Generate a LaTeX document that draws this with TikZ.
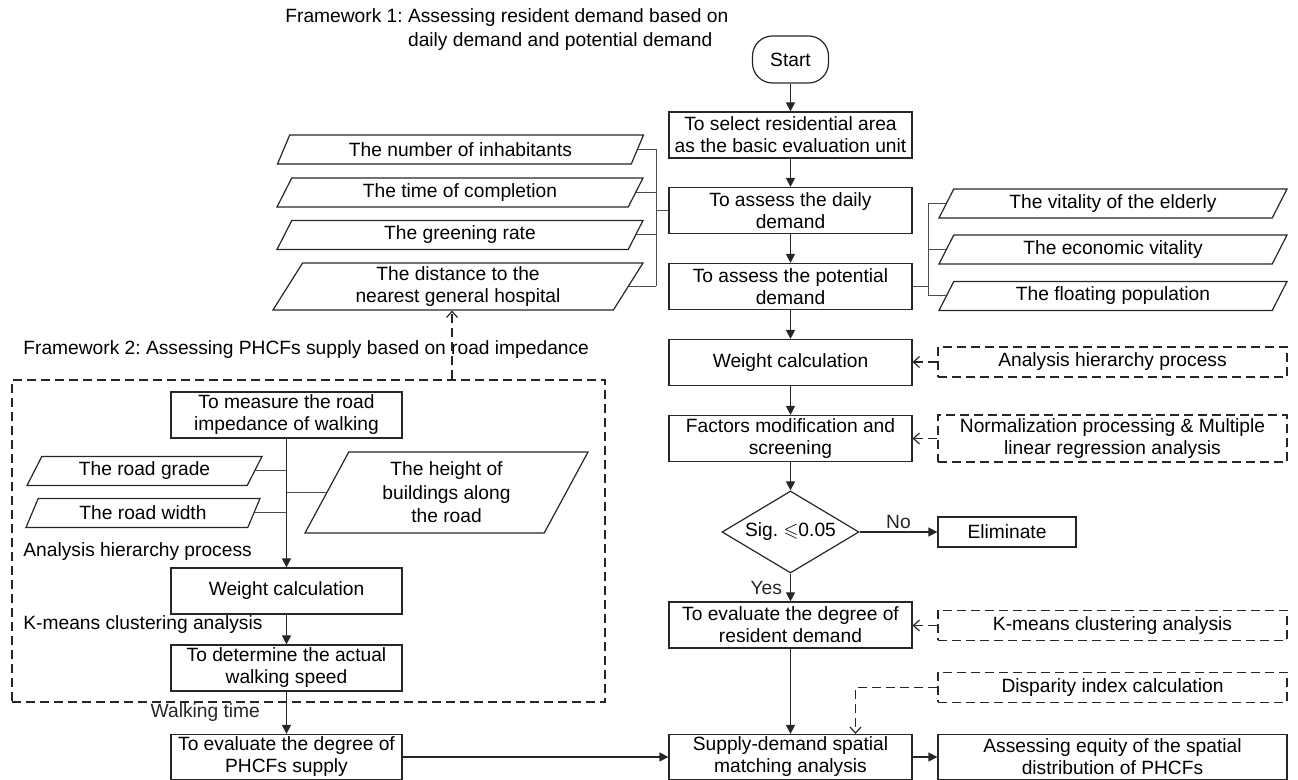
\documentclass[tikz,border=0pt]{standalone}
\usepackage{fontspec}
\setmainfont{Liberation Sans}
\usepackage{amssymb}
\usetikzlibrary{shapes.geometric,arrows.meta,positioning,calc}
\frenchspacing
\newcommand{\figfont}{\fontsize{9.6}{11}\selectfont}
\tikzset{
  >={Triangle[length=4.5pt,width=4.5pt]},
  box/.style={draw=black!85,line width=0.6pt,align=center,minimum width=121.5pt,minimum height=23pt,inner sep=1pt,font=\figfont},
  sbox/.style={box,minimum width=115.5pt},
  term/.style={draw=black!85,line width=0.6pt,rounded corners=10pt,minimum width=38pt,minimum height=23.5pt,font=\figfont},
  dec/.style={draw=black!85,line width=0.6pt,diamond,aspect=1.67,inner sep=0pt,minimum width=68.5pt,minimum height=41pt,font=\figfont},
  para/.style={draw=black!85,line width=0.6pt,trapezium,trapezium left angle=56,trapezium right angle=124,trapezium stretches body,align=center,inner sep=1pt,minimum height=14.5pt,font=\figfont},
  meth/.style={draw=black!85,line width=0.6pt,dash pattern=on 4.5pt off 2.5pt,align=center,minimum width=174.5pt,minimum height=15pt,inner sep=1pt,font=\figfont},
  frame2/.style={draw=black!85,line width=0.6pt,dash pattern=on 4.5pt off 2.5pt,inner sep=0pt},
  lbl/.style={font=\figfont,inner sep=0pt},
  arr/.style={->,line width=0.6pt,black!85},
  link/.style={line width=0.5pt,black!70},
  darr/.style={-{Straight Barb[length=3pt,width=5.5pt]},line width=0.6pt,black!85,dash pattern=on 4.5pt off 2.5pt}
}
\begin{document}
\begin{tikzpicture}[x=0.5pt,y=-0.5pt]
\useasboundingbox(0,0)rectangle(1298,780);
% framework 1: resident demand
\node[lbl,anchor=west,align=left,font=\fontsize{9.6}{12}\selectfont](fw1)at(285,30){Framework 1: Assessing resident demand based on\\\phantom{Framework 1: }daily demand and potential demand};
\node[term](start)at(790.5,59.5){Start};
\node[box](unit)at(790.5,135){To select residential area\\as the basic evaluation unit};
\node[box](daily)at(790.5,210.5){To assess the daily\\demand};
\node[box](potential)at(790.5,286.5){To assess the potential\\demand};
\node[box](weight)at(790.5,362.5){Weight calculation};
\node[box](factor)at(790.5,438.5){Factors modification and\\screening};
\node[dec](sig)at(790.5,532){Sig. $\leqslant$0.05};
\node[box,minimum width=69pt,minimum height=15pt](elim)at(1007,532){Eliminate};
\node[box](resident)at(790.5,625){To evaluate the degree of\\resident demand};
\node[box,minimum height=22.5pt](match)at(790.5,757){Supply-demand spatial\\matching analysis};
\node[box,minimum width=174.5pt,minimum height=22.5pt](equity)at(1112.5,757){Assessing equity of the spatial\\distribution of PHCFs};
% methods
\node[meth](ahp)at(1112.5,362){Analysis hierarchy process};
\node[meth,minimum height=23.5pt](norm)at(1112.5,438.5){Normalization processing \& Multiple\\linear regression analysis};
\node[meth](kmean)at(1112.5,625.5){K-means clustering analysis};
\node[meth](disp)at(1112.5,687.5){Disparity index calculation};
% daily demand factors
\node[para,minimum width=183pt](inhab)at(460.5,149.5){The number of inhabitants};
\node[para,minimum width=183pt](compl)at(460,192.5){The time of completion};
\node[para,minimum width=183pt](green)at(460,235){The greening rate};
\node[para,minimum width=185pt,minimum height=23.5pt](dist)at(458,286.5){The distance to the\\nearest general hospital};
% potential demand factors
\node[para,minimum width=174pt](elder)at(1113,203.5){The vitality of the elderly};
\node[para,minimum width=174pt](econ)at(1113,249.5){The economic vitality};
\node[para,minimum width=174pt](float)at(1113,296){The floating population};
% framework 2: supply
\node[lbl,anchor=west](fw2)at(23,350){Framework 2: Assessing PHCFs supply based on road impedance};
\node[frame2,minimum width=296.5pt,minimum height=161pt](frame)at(308.5,541){};
\node[sbox](measure)at(286.5,415){To measure the road\\impedance of walking};
\node[para,minimum width=117.5pt](grade)at(144.5,471){The road grade};
\node[para,minimum width=117pt](rwidth)at(143,513){The road width};
\node[para,minimum width=141.5pt,minimum height=40.5pt,font=\fontsize{9.6}{11.7}\selectfont](height)at(446.5,492.5){The height of\\buildings along\\the road};
\node[lbl,anchor=west](ahp2)at(23,552){Analysis hierarchy process};
\node[sbox](weight2)at(286.5,591){Weight calculation};
\node[lbl,anchor=west](km2)at(23,625){K-means clustering analysis};
\node[sbox](speed)at(286.5,668){To determine the actual\\walking speed};
\node[sbox,minimum height=22.5pt](supply)at(286.5,757){To evaluate the degree of\\PHCFs supply};
% main flow
\draw[arr](start)--(unit);
\draw[arr](unit)--(daily);
\draw[arr](daily)--(potential);
\draw[arr](potential)--(weight);
\draw[arr](weight)--(factor);
\draw[arr](factor)--(sig);
\draw[arr](sig)--node[lbl,above=1.5pt]{No}(elim);
\draw[arr](sig)--node[lbl,left=4pt]{Yes}(resident);
\draw[arr](resident)--(match);
\draw[arr](match)--(equity);
\draw[arr](supply)--(match);
% method links
\draw[darr](ahp.west)--(ahp.west-|weight.east);
\draw[darr](norm.west)--(norm.west-|factor.east);
\draw[darr](kmean.west)--(kmean.west-|resident.east);
\draw[darr](disp.west)-|([xshift=32.5pt]match.north);
% factor buses
\coordinate(busl)at(656,0);
\foreach \p in {inhab,compl,green,dist}\draw[link](\p.east)--(\p.east-|busl);
\draw[link](inhab.east-|busl)--(dist.east-|busl);
\draw[link](daily.west)--(daily.west-|busl);
\coordinate(busr)at(928,0);
\foreach \p in {elder,econ,float}\draw[link](\p.west)--(\p.west-|busr);
\draw[link](elder.west-|busr)--(float.west-|busr);
\draw[link](potential.east)--(potential.east-|busr);
% supply flow
\coordinate(hosp)at([xshift=-3pt]dist.south);
\draw[darr](hosp|-frame.north)--(hosp);
\draw[arr](measure)--(weight2);
\foreach \p in {grade,rwidth}\draw[link](\p.east)--(\p.east-|measure.south);
\draw[link](height.west)--(height.west-|measure.south);
\draw[arr](weight2)--(speed);
\draw[arr](speed)--node[lbl,left=13pt]{Walking time}(supply);
\end{tikzpicture}
\end{document}
